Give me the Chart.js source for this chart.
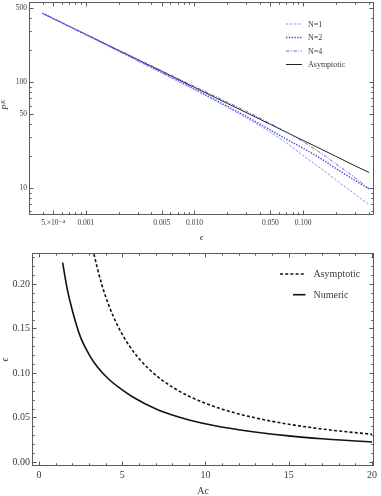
<!DOCTYPE html>
<html><head><meta charset="utf-8">
<script src="https://cdn.jsdelivr.net/npm/chart.js@4"></script>
<style>html,body{margin:0;padding:0;background:#fff}canvas{display:block}</style>
</head><body>
<canvas id="c1" width="381" height="245"></canvas>
<canvas id="c2" width="381" height="251"></canvas>
<script>
const SERIF = "'Liberation Serif','Times New Roman','DejaVu Serif',serif";

// ---------- top chart data ----------
const epsValues   = [0.0004, 0.0006, 0.001, 0.002, 0.003, 0.005, 0.01, 0.02, 0.03, 0.05, 0.07, 0.1, 0.15, 0.2, 0.3, 0.405];
const pAsymptotic = [445, 363, 281, 199, 162.5, 126, 89, 62.9, 51.4, 39.8, 33.6, 28.1, 23.0, 19.9, 16.2, 14.0];
const pN1         = [445, 362, 279, 195, 158.4, 121.5, 84.6, 57.9, 46.0, 33.6, 26.7, 20.2, 15.0, 11.9, 8.75, 6.9];
const pN2         = [445, 363, 280, 197, 160, 123, 85.9, 59.1, 47.3, 35.2, 28.9, 23.7, 18.6, 15.3, 11.8, 9.8];
const pN4         = [445, 363, 283, 201, 164.5, 128, 90.8, 64.8, 52.9, 40.6, 33.8, 27.3, 20.9, 16.9, 12.5, 9.8];
const topSeriesNames = ['N=1', 'N=2', 'N=4', 'Asymptotic'];
const topXTicks = [0.0005, 0.001, 0.005, 0.01, 0.05, 0.1];
const topXTickLabels = ['5.\u00d710\u207b\u2074', '0.001', '0.005', '0.010', '0.050', '0.100'];
const topXMinor = [0.0004, 0.0006, 0.0007, 0.0008, 0.0009, 0.002, 0.003, 0.004, 0.006, 0.007, 0.008, 0.009, 0.02, 0.03, 0.04, 0.06, 0.07, 0.08, 0.09, 0.2, 0.3, 0.4];
const topYTicks = [10, 50, 100, 500];
const topYTickLabels = ['10', '50', '100', '500'];
const topYMinor = [6, 7, 8, 9, 20, 30, 40, 60, 70, 80, 90, 200, 300, 400];

// ---------- bottom chart data ----------
const acNumeric  = [1.42, 1.7, 2.0, 2.46, 3.0, 3.5, 4.16, 5.0, 5.66, 7.0, 8.0, 9.07, 10.5, 12.0, 13.07, 15.0, 17.0, 20.0];
const epsNumeric = [0.224, 0.194, 0.1705, 0.142, 0.121, 0.107, 0.0935, 0.081, 0.0728, 0.0598, 0.0528, 0.047, 0.041, 0.0362, 0.0334, 0.0293, 0.0261, 0.0225];
const acAsym     = [3.3, 3.5, 3.76, 4.1, 4.46, 5.0, 5.47, 6.0, 6.57, 7.37, 8.2, 9.07, 10.0, 11.05, 12.0, 13.07, 14.0, 15.07, 16.0, 17.07, 18.5, 20.0];
const epsAsym    = [0.2336, 0.218, 0.2, 0.1807, 0.1637, 0.1434, 0.1293, 0.1163, 0.105, 0.0923, 0.082, 0.0733, 0.0659, 0.0591, 0.054, 0.0493, 0.0457, 0.0422, 0.0396, 0.0369, 0.0339, 0.0312];
const botSeriesNames = ['Asymptotic', 'Numeric'];
const botXTicks = [0, 5, 10, 15, 20];
const botXTickLabels = ['0', '5', '10', '15', '20'];
const botXMinor = [1,2,3,4,6,7,8,9,11,12,13,14,16,17,18,19];
const botYTicks = [0, 0.05, 0.10, 0.15, 0.20];
const botYTickLabels = ['0.00', '0.05', '0.10', '0.15', '0.20'];
const botYMinor = [0.01,0.02,0.03,0.04,0.06,0.07,0.08,0.09,0.11,0.12,0.13,0.14,0.16,0.17,0.18,0.19,0.21,0.22,0.23];

const FRAME = '#5a5a5a';
const LABEL = '#3a3a3a';

const framePlugin = {
  id: 'frame',
  afterDatasetsDraw(chart, args, o) {
    const {ctx, chartArea: a, scales: {x, y}} = chart;
    ctx.save();
    ctx.strokeStyle = FRAME;
    ctx.lineWidth = 1;
    const L = Math.round(a.left) + 0.5, R = Math.round(a.right) - 0.5;
    const T = Math.round(a.top) + 0.5, B = Math.round(a.bottom) - 0.5;
    ctx.strokeRect(L, T, R - L, B - T);
    ctx.beginPath();
    const xt = (vals, len) => vals.forEach(v => {
      const p = Math.round(x.getPixelForValue(v)) + 0.5;
      ctx.moveTo(p, B); ctx.lineTo(p, B - len);
      ctx.moveTo(p, T); ctx.lineTo(p, T + len);
    });
    const yt = (vals, len) => vals.forEach(v => {
      const p = Math.round(y.getPixelForValue(v)) + 0.5;
      ctx.moveTo(L, p); ctx.lineTo(L + len, p);
      ctx.moveTo(R, p); ctx.lineTo(R - len, p);
    });
    xt(o.xMajor, 4); xt(o.xMinor, 2.2);
    yt(o.yMajor, 4); yt(o.yMinor, 2.2);
    ctx.stroke();
    ctx.restore();
  }
};

const legendPlugin = {
  id: 'mylegend',
  afterDraw(chart, args, o) {
    if (!o.items) return;
    const ctx = chart.ctx;
    ctx.save();
    o.items.forEach((it, i) => {
      const ds = chart.data.datasets[it.ds];
      const yy = o.y0 + i * o.dy;
      ctx.strokeStyle = ds.borderColor;
      ctx.lineWidth = ds.borderWidth;
      ctx.setLineDash(ds.borderDash || []);
      ctx.beginPath();
      ctx.moveTo(it.x1, yy); ctx.lineTo(it.x2, yy);
      ctx.stroke();
      ctx.setLineDash([]);
      ctx.fillStyle = LABEL;
      ctx.font = o.font;
      ctx.textBaseline = 'middle';
      ctx.textAlign = 'left';
      ctx.fillText(ds.label, o.textX, yy + 0.5);
    });
    ctx.restore();
  }
};

const yTitlePlugin = {
  id: 'ytitle',
  afterDraw(chart, args, o) {
    if (!o.main) return;
    const ctx = chart.ctx;
    ctx.save();
    ctx.translate(o.x, o.y);
    ctx.rotate(-Math.PI / 2);
    ctx.fillStyle = LABEL;
    ctx.textBaseline = 'middle';
    ctx.font = 'italic 6.5px ' + SERIF;
    const ws = ctx.measureText(o.sup).width;
    ctx.font = 'italic 9px ' + SERIF;
    const w = ctx.measureText(o.main).width;
    ctx.textAlign = 'left';
    ctx.fillText(o.main, -(w + ws) / 2, 0);
    ctx.font = 'italic 6.5px ' + SERIF;
    ctx.fillText(o.sup, -(w + ws) / 2 + w + 0.5, -3);
    ctx.restore();
  }
};

function pts(xs, ys) { return xs.map((v, i) => ({x: v, y: ys[i]})); }
function fixTicks(vals) { return s => { s.ticks = vals.map(v => ({value: v})); }; }

Chart.defaults.font.family = SERIF;
Chart.defaults.color = LABEL;

// ---------- top chart ----------
new Chart(document.getElementById('c1'), {
  type: 'scatter',
  data: {
    datasets: [
      {label: topSeriesNames[0], data: pts(epsValues, pN1), borderColor: '#8c8cff', borderWidth: 1, borderDash: [2.5, 1.5]},
      {label: topSeriesNames[1], data: pts(epsValues, pN2), borderColor: '#4646ee', borderWidth: 1.4, borderDash: [1.4, 1.4]},
      {label: topSeriesNames[2], data: pts(epsValues, pN4), borderColor: '#5c5cd0', borderWidth: 0.9, borderDash: [3.5, 1.5, 1, 1.5]},
      {label: topSeriesNames[3], data: pts(epsValues, pAsymptotic), borderColor: '#222222', borderWidth: 1}
    ].map(d => Object.assign(d, {showLine: true, pointRadius: 0, fill: false, cubicInterpolationMode: 'monotone'}))
  },
  options: {
    responsive: false, animation: false, devicePixelRatio: 1,
    layout: {padding: {top: 2, right: 7, left: 0, bottom: 0}},
    plugins: {
      legend: {display: false}, tooltip: {enabled: false},
      frame: {xMajor: topXTicks, xMinor: topXMinor, yMajor: topYTicks, yMinor: topYMinor},
      mylegend: {items: [{ds: 0, x1: 286, x2: 302}, {ds: 1, x1: 286, x2: 302}, {ds: 2, x1: 286, x2: 302}, {ds: 3, x1: 286, x2: 302}],
                 y0: 24, dy: 13.5, textX: 308, font: '8px ' + SERIF},
      ytitle: {main: 'P', sup: 'K', x: 6, y: 105}
    },
    scales: {
      x: {
        type: 'logarithmic', min: 0.000336, max: 0.449,
        afterBuildTicks: fixTicks(topXTicks),
        afterFit: s => { s.height = 30; s.paddingLeft = 0; s.paddingRight = 0; },
        grid: {display: false, drawTicks: false}, border: {display: false},
        ticks: {autoSkip: false, maxRotation: 0, minRotation: 0, padding: 3.5, font: {size: 7.5}, color: LABEL,
                callback: (v, i) => topXTickLabels[i]},
        title: {display: true, text: '\u03f5', font: {size: 9, style: 'italic'}, padding: {top: 0, bottom: 1.5}, color: LABEL}
      },
      y: {
        type: 'logarithmic', min: 5.56, max: 569,
        afterBuildTicks: fixTicks(topYTicks),
        afterFit: s => { s.width = 29; s.paddingTop = 0; s.paddingBottom = 0; },
        grid: {display: false, drawTicks: false}, border: {display: false},
        ticks: {autoSkip: false, padding: 2, font: {size: 7.5}, color: LABEL,
                callback: (v, i) => topYTickLabels[i]}
      }
    }
  },
  plugins: [framePlugin, legendPlugin, yTitlePlugin]
});

// ---------- bottom chart ----------
new Chart(document.getElementById('c2'), {
  type: 'scatter',
  data: {
    datasets: [
      {label: botSeriesNames[0], data: pts(acAsym, epsAsym), borderColor: '#111111', borderWidth: 1.6, borderDash: [3, 2.2]},
      {label: botSeriesNames[1], data: pts(acNumeric, epsNumeric), borderColor: '#111111', borderWidth: 1.6}
    ].map(d => Object.assign(d, {showLine: true, pointRadius: 0, fill: false, cubicInterpolationMode: 'monotone'}))
  },
  options: {
    responsive: false, animation: false, devicePixelRatio: 1,
    layout: {padding: {top: 8, right: 7, left: 0, bottom: 0}},
    plugins: {
      legend: {display: false}, tooltip: {enabled: false},
      frame: {xMajor: botXTicks, xMinor: botXMinor, yMajor: botYTicks, yMinor: botYMinor},
      mylegend: {items: [{ds: 0, x1: 280, x2: 305}, {ds: 1, x1: 293, x2: 305.5}],
                 y0: 29, dy: 20.7, textX: 313.5, font: '10px ' + SERIF}
    },
    scales: {
      x: {
        type: 'linear', min: -0.42, max: 20.12,
        afterBuildTicks: fixTicks(botXTicks),
        afterFit: s => { s.height = 30; s.paddingLeft = 0; s.paddingRight = 0; },
        grid: {display: false, drawTicks: false}, border: {display: false},
        ticks: {autoSkip: false, maxRotation: 0, minRotation: 0, padding: 3, font: {size: 10}, color: LABEL,
                callback: (v, i) => botXTickLabels[i]},
        title: {display: true, text: 'Ac', font: {size: 10, lineHeight: 1}, padding: {top: 0, bottom: 0}, color: LABEL}
      },
      y: {
        type: 'linear', min: -0.0045, max: 0.2348,
        afterBuildTicks: fixTicks(botYTicks),
        afterFit: s => { s.width = 32; s.paddingTop = 0; s.paddingBottom = 0; },
        grid: {display: false, drawTicks: false}, border: {display: false},
        ticks: {autoSkip: false, padding: 2, font: {size: 10}, color: LABEL,
                callback: (v, i) => botYTickLabels[i]},
        title: {display: true, text: '\u03f5', font: {size: 10, style: 'italic', lineHeight: 1}, padding: {top: 0, bottom: 0}, color: LABEL}
      }
    }
  },
  plugins: [framePlugin, legendPlugin]
});
</script>
</body></html>
